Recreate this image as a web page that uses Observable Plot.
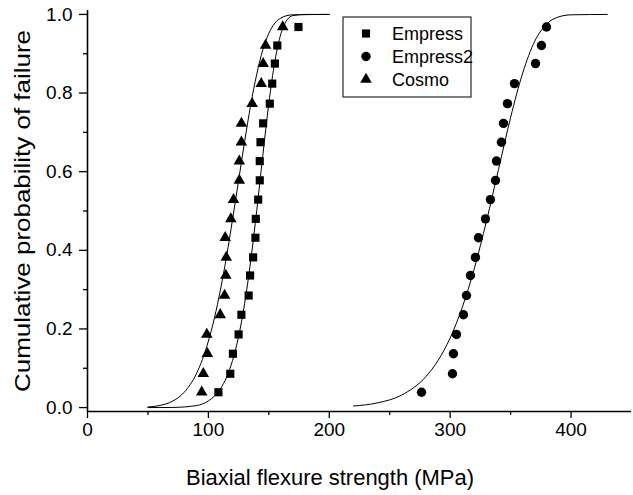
<!DOCTYPE html>
<html><head><meta charset="utf-8">
<script src="https://cdn.jsdelivr.net/npm/d3@7"></script>
<script src="https://cdn.jsdelivr.net/npm/@observablehq/plot@0.6"></script>
<style>
body{margin:0;background:#fff}
svg{font-family:Arial,"Liberation Sans",sans-serif}
</style>
</head><body><div id="chart"></div>
<script>
// cumulative probability (rank) of each of the 20 specimens
const prob = [0.039,0.086,0.137,0.186,0.236,0.285,0.336,0.382,0.432,0.480,0.529,0.578,0.627,0.675,0.723,0.773,0.824,0.875,0.921,0.968];
// strengths (MPa)
const empressX  = [108.3,118.1,120.3,125.0,127.3,133.3,134.5,137.0,138.9,139.2,141.2,142.5,142.5,143.1,145.3,150.8,152.8,155.0,157.0,174.5];
const empress2X = [276.3,301.9,302.7,305.2,311.0,313.5,316.8,320.9,323.4,329.2,333.3,337.5,338.3,342.4,344.1,347.4,353.2,370.6,375.5,379.7];
const cosmoX    = [94.5,95.8,99.2,98.7,109.8,113.4,114.4,114.8,113.9,118.6,120.8,125.6,125.6,127.3,127.3,136.2,143.7,145.3,147.3,161.5];

// fitted curves
const empressCurveX = [50,70,90,100,105,110,115,120,125,130,135,140,145,150,155,160,165,170,180,200];
const empressCurveP = [0,0.0003,0.005,0.017,0.029,0.048,0.077,0.120,0.181,0.265,0.373,0.501,0.641,0.774,0.881,0.951,0.986,0.997,1.0,1.0];
const cosmoCurveX = [50,60,70,80,90,95,100,105,110,115,120,125,130,135,140,145,150,155,160,165,170,200];
const cosmoCurveP = [0.0015,0.0054,0.0157,0.039,0.0855,0.122,0.169,0.228,0.300,0.384,0.479,0.578,0.677,0.770,0.848,0.910,0.952,0.978,0.991,0.997,0.999,1.0];
const empress2CurveX = [220,240,260,280,290,300,310,320,330,340,350,360,370,380,390,400,430];
const empress2CurveP = [0.004,0.012,0.032,0.079,0.120,0.177,0.255,0.354,0.474,0.606,0.738,0.851,0.932,0.976,0.994,0.999,1.0];

const xTicks = [0,100,200,300,400];
const xMinor = [50,150,250,350];
const yTicks = [0,0.2,0.4,0.6,0.8,1.0];
const yMinor = [0.1,0.3,0.5,0.7,0.9];

const seriesNames = ["Empress","Empress2","Cosmo"];
const symbols = {"Empress":"square","Empress2":"circle","Cosmo":"triangle"};
const radius = {"Empress":4.6,"Empress2":4.7,"Cosmo":4.3};

const series = {
  "Empress": empressX.map((x,i) => ({x, p: prob[i]})),
  "Empress2": empress2X.map((x,i) => ({x, p: prob[i]})),
  "Cosmo": cosmoX.map((x,i) => ({x, p: prob[i]}))
};
const curves = [];
[[empressCurveX,empressCurveP,"Empress"],[cosmoCurveX,cosmoCurveP,"Cosmo"],[empress2CurveX,empress2CurveP,"Empress2"]]
  .forEach(([xs,ps,name]) => xs.forEach((x,i) => curves.push({x, p: ps[i], s: name})));

const chart = Plot.plot({
  width: 633, height: 495,
  marginLeft: 87, marginRight: 2, marginTop: 10, marginBottom: 84,
  style: {background: "white", color: "black", fontSize: "19px", fontFamily: "Arial, 'Liberation Sans', sans-serif"},
  x: {domain: [0, 450]},
  y: {domain: [-0.01, 1.01]},
  marks: [
    Plot.axisX({ticks: xTicks, tickSize: 7, tickPadding: 4, tickFormat: d => String(d), label: null, strokeWidth: 1.3}),
    Plot.axisX({ticks: xMinor, tickSize: 4, tickFormat: () => "", label: null, strokeWidth: 1.3}),
    Plot.axisY({ticks: yTicks, tickSize: 8, tickPadding: 7, tickFormat: d3.format(".1f"), label: null, strokeWidth: 1.3}),
    Plot.axisY({ticks: yMinor, tickSize: 4, tickFormat: () => "", label: null, strokeWidth: 1.3}),
    Plot.ruleX([0], {stroke: "black", strokeWidth: 1.6}),
    Plot.ruleY([-0.01], {stroke: "black", strokeWidth: 1.6}),
    Plot.line(curves, {x: "x", y: "p", z: "s", stroke: "black", strokeWidth: 1, curve: "monotone-x"}),
    ...seriesNames.map(name => Plot.dot(series[name], {x: "x", y: "p", symbol: symbols[name], r: radius[name], fill: "black", stroke: "none"}))
  ]
});
document.getElementById("chart").appendChild(chart);

const svg = d3.select(chart);
// axis titles
svg.append("text").attr("x", 330).attr("y", 485).attr("text-anchor", "middle")
  .attr("font-size", 22).attr("textLength", 288).attr("lengthAdjust", "spacingAndGlyphs")
  .text("Biaxial flexure strength (MPa)");
svg.append("text").attr("transform", "translate(30,211) rotate(-90)").attr("text-anchor", "middle")
  .attr("font-size", 22).attr("textLength", 362).attr("lengthAdjust", "spacingAndGlyphs")
  .text("Cumulative probability of failure");

// legend
const lg = svg.append("g");
lg.append("rect").attr("x", 343).attr("y", 17).attr("width", 128).attr("height", 80)
  .attr("fill", "white").attr("stroke", "black").attr("stroke-width", 1);
const symGen = {square: d3.symbolSquare, circle: d3.symbolCircle, triangle: d3.symbolTriangle};
seriesNames.forEach((name, i) => {
  const cy = 33.5 + i * 23;
  const area = Math.PI * radius[name] * radius[name];
  lg.append("path").attr("transform", `translate(366,${cy})`)
    .attr("d", d3.symbol(symGen[symbols[name]], area)()).attr("fill", "black");
  lg.append("text").attr("x", 392).attr("y", cy + 6).attr("font-size", 18)
    .attr("text-anchor", "start").text(name);
});
</script></body></html>
